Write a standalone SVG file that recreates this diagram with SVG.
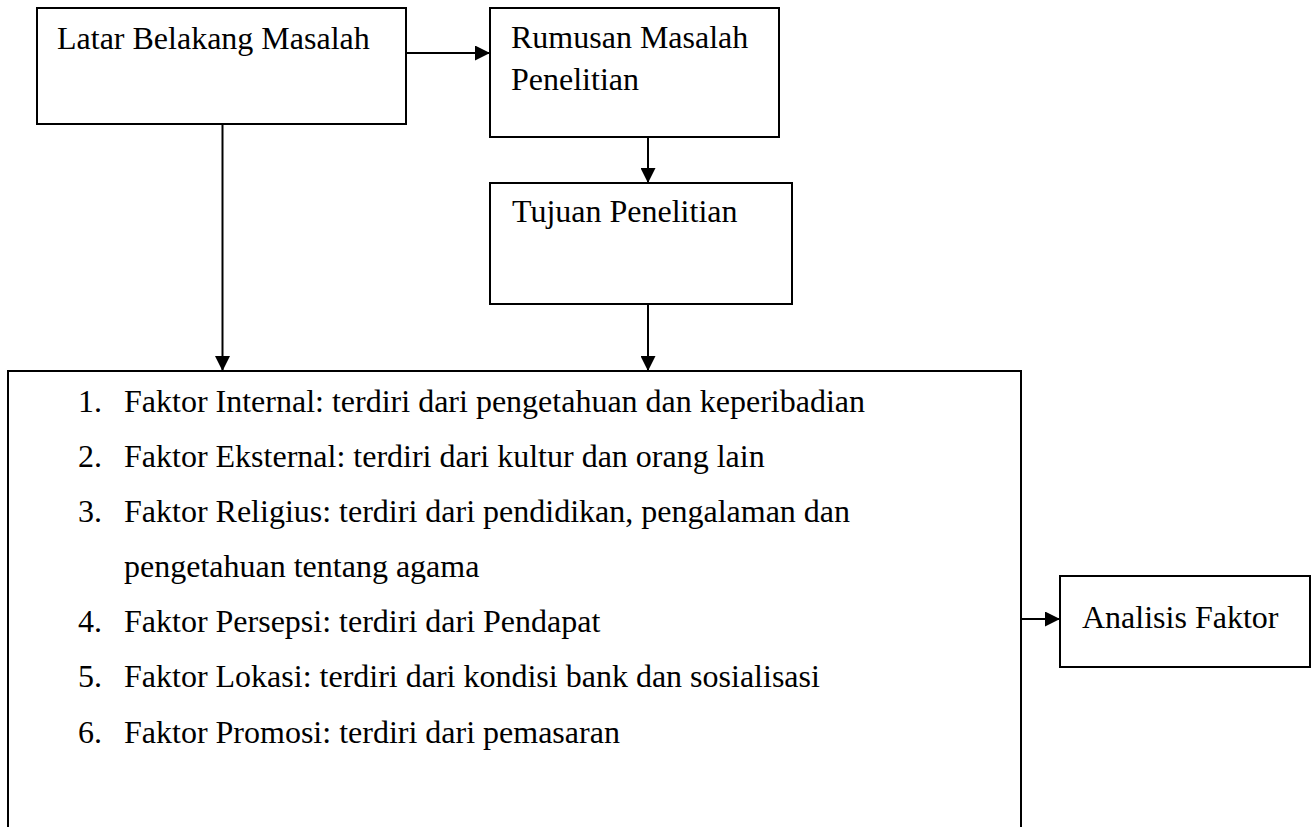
<svg xmlns="http://www.w3.org/2000/svg" width="1315" height="827" viewBox="0 0 1315 827">
<style>
.box{fill:#fff;stroke:#000;stroke-width:2}
.t{font-family:"Liberation Serif","Times New Roman",serif;font-size:32px;fill:#000}
.c{stroke:#000;stroke-width:2;fill:none}
</style>
<defs>
<marker id="ah" markerUnits="userSpaceOnUse" markerWidth="15" markerHeight="15" refX="15" refY="7.5" orient="auto">
<path d="M0,0 L15,7.5 L0,15 Z" fill="#000"/>
</marker>
</defs>
<rect width="1315" height="827" fill="#fff"/>
<g id="connectors">
<line class="c" x1="406" y1="53" x2="490" y2="53" marker-end="url(#ah)"/>
<line class="c" x1="648" y1="137" x2="648" y2="183" marker-end="url(#ah)"/>
<line class="c" x1="222.5" y1="124" x2="222.5" y2="371" marker-end="url(#ah)"/>
<line class="c" x1="648" y1="304" x2="648" y2="371" marker-end="url(#ah)"/>
<line class="c" x1="1021" y1="619" x2="1060" y2="619" marker-end="url(#ah)"/>
</g>
<g id="latar">
<rect class="box" x="37" y="8" width="369" height="116"/>
<text class="t" x="57" y="49">Latar Belakang Masalah</text>
</g>
<g id="rumusan">
<rect class="box" x="490" y="8" width="289" height="129"/>
<text class="t" x="511" y="48">Rumusan Masalah</text>
<text class="t" x="511" y="90">Penelitian</text>
</g>
<g id="tujuan">
<rect class="box" x="490" y="183" width="302" height="121"/>
<text class="t" x="512" y="222">Tujuan Penelitian</text>
</g>
<g id="faktor">
<path class="box" d="M8,840 V371 H1021 V840"/>
<text class="t" x="78" y="412">1.</text>
<text class="t" x="124" y="412">Faktor Internal: terdiri dari pengetahuan dan keperibadian</text>
<text class="t" x="78" y="467">2.</text>
<text class="t" x="124" y="467">Faktor Eksternal: terdiri dari kultur dan orang lain</text>
<text class="t" x="78" y="522">3.</text>
<text class="t" x="124" y="522">Faktor Religius: terdiri dari pendidikan, pengalaman dan</text>
<text class="t" x="124" y="577">pengetahuan tentang agama</text>
<text class="t" x="78" y="632">4.</text>
<text class="t" x="124" y="632">Faktor Persepsi: terdiri dari Pendapat</text>
<text class="t" x="78" y="687">5.</text>
<text class="t" x="124" y="687">Faktor Lokasi: terdiri dari kondisi bank dan sosialisasi</text>
<text class="t" x="78" y="743">6.</text>
<text class="t" x="124" y="743">Faktor Promosi: terdiri dari pemasaran</text>
</g>
<g id="analisis">
<rect class="box" x="1060" y="576" width="250" height="91"/>
<text class="t" x="1082" y="628">Analisis Faktor</text>
</g>
</svg>
